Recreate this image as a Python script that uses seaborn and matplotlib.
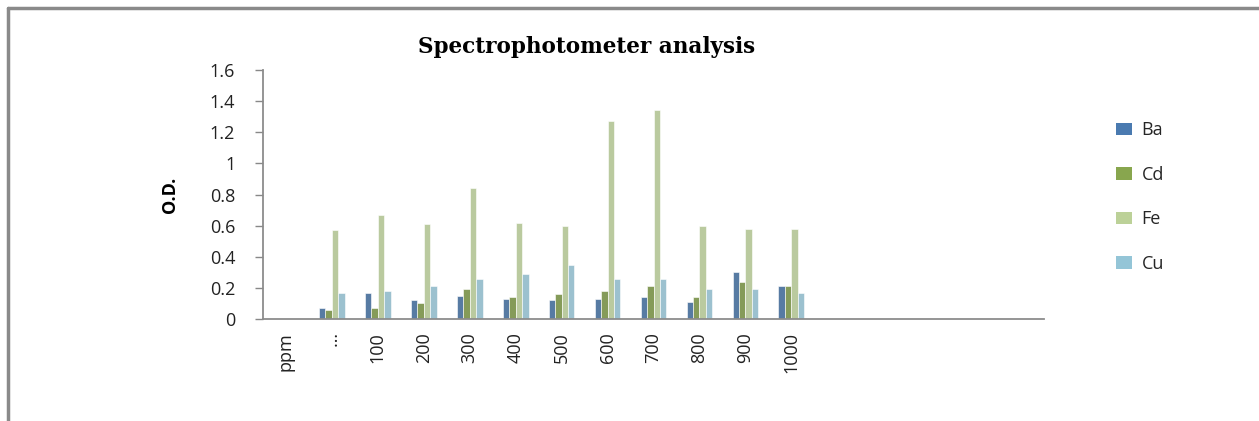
import matplotlib
matplotlib.use("Agg")
import matplotlib.pyplot as plt
import matplotlib.patches as mpatches
import seaborn as sns
import pandas as pd

# categories on the x axis ("ppm" has no data, 5 empty slots follow 1000)
categories = ["ppm", "\u2026", "100", "200", "300", "400", "500",
              "600", "700", "800", "900", "1000"]
n_slots = 17

# O.D. readings (one value per category after "ppm")
ba = [0.07, 0.17, 0.12, 0.15, 0.13, 0.12, 0.13, 0.14, 0.11, 0.30, 0.21]
cd = [0.06, 0.07, 0.10, 0.19, 0.14, 0.16, 0.18, 0.21, 0.14, 0.24, 0.21]
fe = [0.57, 0.67, 0.61, 0.84, 0.62, 0.60, 1.27, 1.34, 0.60, 0.58, 0.58]
cu = [0.17, 0.18, 0.21, 0.26, 0.29, 0.35, 0.26, 0.26, 0.19, 0.19, 0.17]

series = ["Ba", "Cd", "Fe", "Cu"]
colors = ["#4A7AB0", "#88A64E", "#BCD198", "#94C5D7"]

rows = []
for name, vals in zip(series, [ba, cd, fe, cu]):
    for cat, v in zip(categories[1:], vals):
        rows.append({"conc": cat, "metal": name, "od": v})
df = pd.DataFrame(rows)

sns.set_style("white")
plt.rcParams["font.family"] = ["Open Sans", "DejaVu Sans"]

fig = plt.figure(figsize=(12.59, 4.21), dpi=100)
ax = fig.add_axes([263 / 1259, 1 - 319 / 421, (1044 - 263) / 1259, (319 - 70) / 421])

sns.barplot(data=df, x="conc", y="od", hue="metal", order=categories,
            hue_order=series, palette=colors, width=0.56, errorbar=None,
            edgecolor="white", linewidth=0.4, legend=False, ax=ax)

ax.set_xlim(-0.5, n_slots - 0.5)
ax.set_ylim(0, 1.6)
ax.set_yticks([0, 0.2, 0.4, 0.6, 0.8, 1.0, 1.2, 1.4, 1.6])
ax.set_yticklabels(["0", "0.2", "0.4", "0.6", "0.8", "1", "1.2", "1.4", "1.6"],
                   fontsize=13, color="#222222")
ax.set_xticks(range(len(categories)))
ax.set_xticklabels(categories, rotation=90, fontsize=13, color="#222222")
ax.tick_params(axis="y", which="both", left=True, length=6, width=1, color="#888888", pad=14)
ax.tick_params(axis="x", bottom=False, pad=6)
ax.set_xlabel("")
ax.set_ylabel("O.D.", fontsize=13, fontweight="bold", labelpad=22, color="black")

for side in ["top", "right"]:
    ax.spines[side].set_visible(False)
for side in ["left", "bottom"]:
    ax.spines[side].set_color("#8c8c8c")
    ax.spines[side].set_linewidth(1.3)

fig.text(587 / 1259, 1 - 47 / 421, "Spectrophotometer analysis", ha="center", va="center",
         fontsize=15.5, fontweight="bold", family="DejaVu Serif", color="black")

handles = [mpatches.Patch(facecolor=c, edgecolor="none") for c in colors]
fig.legend(handles, series, loc="upper left", bbox_to_anchor=(1100 / 1259, 1 - 105 / 421),
           frameon=False, fontsize=13, labelspacing=1.47, handlelength=0.85,
           handleheight=0.7, handletextpad=0.55)

# outer frame (top and left edges visible)
fig.add_artist(plt.Line2D([8 / 1259, 8 / 1259], [0, 1 - 8 / 421], color="#8a8a8a", lw=2.5,
                          transform=fig.transFigure))
fig.add_artist(plt.Line2D([8 / 1259, 1], [1 - 8 / 421, 1 - 8 / 421], color="#8a8a8a", lw=2.5,
                          transform=fig.transFigure))

fig.savefig("out.png", dpi=100)
